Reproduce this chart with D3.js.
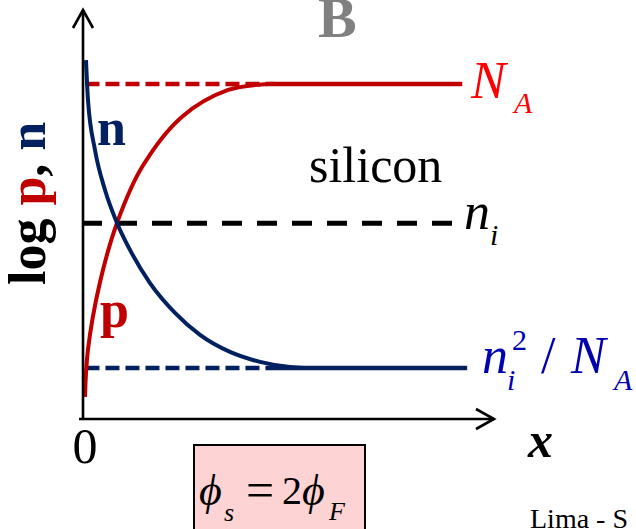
<!DOCTYPE html>
<html>
<head>
<meta charset="utf-8">
<script src="https://cdn.jsdelivr.net/npm/d3@7"></script>
<style>
  html, body { margin: 0; padding: 0; background: #fff; }
  svg { display: block; }
  text { font-family: "Liberation Serif", "Times New Roman", serif; }
</style>
</head>
<body>
<script>
// Carrier concentrations at the surface of p-type silicon under strong inversion.
// Depth into the semiconductor (arbitrary units) and log concentration (arbitrary units).
const levelKeys   = ["NA", "ni", "ni2NA"];
const levelValues = [16, 10.12, 4];          // log N_A, log n_i, log n_i^2/N_A
const levelColors = ["#c00000", "#000000", "#002060"];

// electron concentration n(x)
const nDepth = [0.073, 0.122, 0.293, 0.537, 0.829, 1.146, 1.634, 2.244, 2.854, 3.585, 4.317, 5.049, 5.415];
const nLog   = [17.01, 15.32, 13.21, 11.52, 10.13, 8.99, 7.59, 6.33, 5.40, 4.68, 4.26, 4.04, 4.0];

// hole concentration p(x)
const pDepth = [0.049, 0.12, 0.41, 0.83, 1.44, 2.41, 3.54, 4.51, 4.7];
const pLog   = [2.78, 4.76, 7.59, 10.13, 12.49, 14.61, 15.75, 16.0, 16.0];

// where each reference level turns from dashed to solid, and where it ends
const levelDashEnd = [4.63, 9.0, 4.78];
const levelEnd     = [9.25, 9.0, 9.37];

const W = 636, H = 529;
const svg = d3.select("body").append("svg").attr("width", W).attr("height", H);

const x = d3.scaleLinear().domain([0, 10]).range([83, 493]);
const y = d3.scaleLinear().domain([16, 4]).range([84, 368]);
const x0 = x(0), yAxisBottom = 419;

// title letter
svg.append("text").attr("x", 318).attr("y", 37)
  .attr("font-size", 58).attr("font-weight", "bold").attr("fill", "#808080").text("B");

// reference levels
levelKeys.forEach((k, i) => {
  const yy = y(levelValues[i]);
  const isNi = k === "ni";
  svg.append("line")
    .attr("x1", isNi ? x0 - 1 : x(0.06)).attr("x2", x(levelDashEnd[i]))
    .attr("y1", yy).attr("y2", yy)
    .attr("stroke", levelColors[i])
    .attr("stroke-width", isNi ? 5 : 4.5)
    .attr("stroke-dasharray", isNi ? "20,15" : "14,6");
  if (!isNi) {
    svg.append("line")
      .attr("x1", x(levelDashEnd[i])).attr("x2", x(levelEnd[i]))
      .attr("y1", yy).attr("y2", yy)
      .attr("stroke", levelColors[i]).attr("stroke-width", 4.5);
  }
});

// concentration curves
const pLine = d3.line().x(d => x(d[0])).y(d => y(d[1])).curve(d3.curveCatmullRom.alpha(0.5));
const nLine = d3.line().x(d => x(d[0])).y(d => y(d[1])).curve(d3.curveMonotoneX);
svg.append("path").datum(d3.zip(pDepth, pLog))
  .attr("d", pLine).attr("fill", "none").attr("stroke", "#c00000").attr("stroke-width", 4);
svg.append("path").datum(d3.zip(nDepth, nLog))
  .attr("d", nLine).attr("fill", "none").attr("stroke", "#002060").attr("stroke-width", 4);

// axes with open arrow heads
const axisG = svg.append("g").attr("stroke", "#000").attr("stroke-width", 2.6).attr("fill", "none");
axisG.append("line").attr("x1", x0).attr("x2", x0).attr("y1", yAxisBottom + 1).attr("y2", 10);
axisG.append("path").attr("d", `M${x0 - 10},28 L${x0},10 L${x0 + 10},28`);
axisG.append("line").attr("x1", x0 - 4).attr("x2", 494).attr("y1", yAxisBottom).attr("y2", yAxisBottom);
axisG.append("path").attr("d", `M476,${yAxisBottom - 10} L494,${yAxisBottom} L476,${yAxisBottom + 10}`);

// axis labels
const ylab = svg.append("text")
  .attr("transform", "translate(45,285) rotate(-90)")
  .attr("font-size", 52).attr("font-weight", "bold");
ylab.append("tspan").attr("fill", "#000").text("log ");
ylab.append("tspan").attr("fill", "#c00000").text("p");
ylab.append("tspan").attr("fill", "#000").text(", ");
ylab.append("tspan").attr("fill", "#002060").text("n");

svg.append("text").attr("x", x0 + 2).attr("y", 463).attr("text-anchor", "middle")
  .attr("font-size", 50).text("0");
svg.append("text").attr("x", 528).attr("y", 457).attr("font-size", 50)
  .attr("font-weight", "bold").attr("font-style", "italic").text("x");

// curve labels
svg.append("text").attr("x", 97).attr("y", 145).attr("font-size", 52)
  .attr("font-weight", "bold").attr("fill", "#002060").text("n");
svg.append("text").attr("x", 100).attr("y", 327).attr("font-size", 52)
  .attr("font-weight", "bold").attr("fill", "#c00000").text("p");

svg.append("text").attr("x", 309).attr("y", 182).attr("font-size", 50).text("silicon");

// level labels
const yNA = y(levelValues[0]), yNi = y(levelValues[1]), yLow = y(levelValues[2]);
const it = (t, xx, yy, size, color) =>
  svg.append("text").attr("x", xx).attr("y", yy).attr("font-size", size)
    .attr("font-style", "italic").attr("fill", color).text(t);

it("N", 471, yNA + 14, 52, "#ff0000");
it("A", 514, yNA + 29, 30, "#ff0000");

it("n", 464, yNi + 6, 52, "#000");
it("i", 490, yNi + 22, 30, "#000");

it("n", 482, yLow + 5, 52, "#0000b0");
it("2", 512, yLow - 18, 30, "#0000b0").attr("font-style", "normal");
it("i", 507, yLow + 22, 30, "#0000b0");
svg.append("text").attr("x", 541).attr("y", yLow + 5).attr("font-size", 52)
  .attr("fill", "#0000b0").text("/");
it("N", 571, yLow + 5, 52, "#0000b0");
it("A", 614, yLow + 22, 30, "#0000b0");

// surface potential condition for strong inversion
svg.append("rect").attr("x", 194).attr("y", 445).attr("width", 171).attr("height", 100)
  .attr("fill", "#fdd3d3").attr("stroke", "#000").attr("stroke-width", 2);
it("\u03D5", 199, 505, 44, "#000");
it("s", 224, 521, 26, "#000");
svg.append("text").attr("x", 246).attr("y", 507).attr("font-size", 50).text("=");
svg.append("text").attr("x", 282).attr("y", 504).attr("font-size", 40).text("2");
it("\u03D5", 302, 505, 44, "#000");
it("F", 329, 520, 26, "#000");

svg.append("text").attr("x", 530).attr("y", 528).attr("font-size", 28).text("Lima - S");
</script>
</body>
</html>
